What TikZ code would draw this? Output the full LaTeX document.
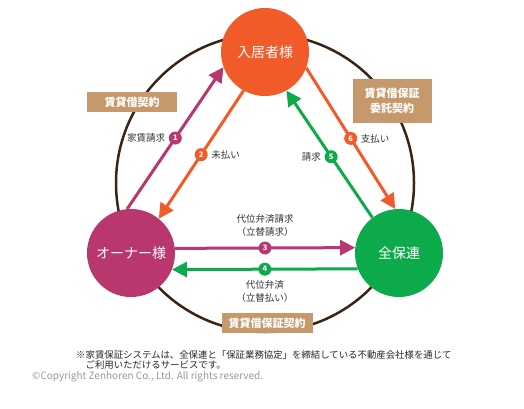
\documentclass[tikz,border=0pt]{standalone}
\usepackage{fontspec}
\setmainfont{Noto Sans CJK JP}
\usetikzlibrary{arrows.meta,positioning}
\definecolor{kyojusha}{RGB}{241,90,41}
\definecolor{owner}{RGB}{183,55,110}
\definecolor{zenhoren}{RGB}{13,170,75}
\definecolor{ring}{RGB}{59,36,21}
\definecolor{tan}{RGB}{197,153,107}
\begin{document}
\begin{tikzpicture}[x=1pt,y=-1pt,
    party/.style={circle,minimum size=88pt,inner sep=0pt,text=white,font=\fontsize{14}{16}\selectfont},
    flow/.style={line width=3pt,-{Triangle[length=15pt,width=15pt]}},
    badge/.style={circle,fill=#1,text=white,minimum size=13pt,inner sep=0pt,font=\bfseries\fontsize{7.5}{7.5}\selectfont},
    lbl/.style={text=black!80,font=\fontsize{9.5}{13}\selectfont,inner sep=1pt},
    keiyaku/.style={fill=tan,text=white,inner sep=0pt,align=center,font=\bfseries\fontsize{11}{15}\selectfont},
    note/.style={text=black!85,inner sep=0pt,font=\fontsize{9.4}{11}\selectfont}]
    \useasboundingbox[fill=white] (0,0) rectangle (524,409);
    \draw[line width=2.5pt,ring] (265,183) circle (149pt);
    \node[party,fill=kyojusha] (resident) at (265,52) {入居者様};
    \node[party,fill=owner] (owner) at (131,253) {オーナー様};
    \node[party,fill=zenhoren] (zenhoren) at (399,253) {全保連};
    \node[keiyaku,minimum width=90pt,minimum height=20pt] (chintai) at (132,102) {賃貸借契約};
    \node[keiyaku,minimum width=79pt,minimum height=44pt] (itaku) at (392,101) {賃貸借保証\\委託契約};
    \node[keiyaku,minimum width=91pt,minimum height=20pt] (hosho) at (267,323) {賃貸借保証契約};
    \draw[flow,owner] (owner.95) -- node[badge=owner] (b1) {1} (resident.200);
    \draw[flow,kyojusha] (resident.241) -- node[badge=kyojusha] (b2) {2} (owner.51);
    \draw[flow,owner] (owner.6.5) -- node[badge=owner] (b3) {3} (zenhoren.173.5);
    \draw[flow,zenhoren] (zenhoren.201.3) -- node[badge=zenhoren] (b4) {4} (owner.338.7);
    \draw[flow,zenhoren] (zenhoren.127) -- node[badge=zenhoren,pos=.48] (b5) {5} (resident.299);
    \draw[flow,kyojusha] (resident.339) -- node[badge=kyojusha] (b6) {6} (zenhoren.95);
    \node[lbl,left=1pt of b1] {家賃請求};
    \node[lbl,right=1pt of b2] {未払い};
    \node[lbl,above=2pt of b3,align=center] {代位弁済請求\\（立替請求）};
    \node[lbl,below=2pt of b4,align=center] {代位弁済\\（立替払い）};
    \node[lbl,left=1pt of b5] {請求};
    \node[lbl,right=1pt of b6] {支払い};
    \node[note,anchor=west] (note1) at (76,355) {※家賃保証システムは、全保連と「保証業務協定」を締結している不動産会社様を通じて};
    \node[note,anchor=north west] (note2) at ([xshift=9.4pt,yshift=-1pt]note1.south west) {ご利用いただけるサービスです。};
    \node[anchor=west,inner sep=0pt,text=black!40,font=\fontsize{10}{12}\selectfont] (copyright) at (32,377) {©Copyright Zenhoren Co., Ltd. All rights reserved.};
\end{tikzpicture}
\end{document}
